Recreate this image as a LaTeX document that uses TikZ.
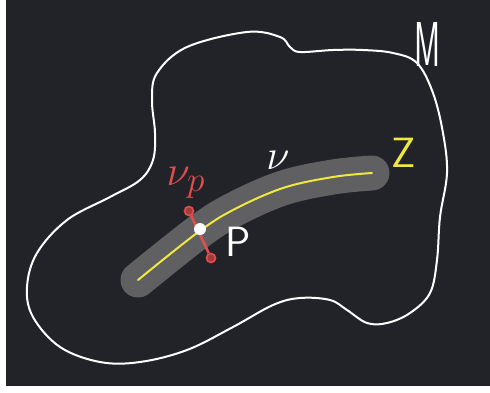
\documentclass[tikz,border=0pt]{standalone}
\usepackage{tikz}
\usetikzlibrary{positioning}
\definecolor{board}{RGB}{33,35,41}
\definecolor{chalkgray}{RGB}{96,96,99}
\definecolor{chalkyellow}{RGB}{240,232,64}
\definecolor{chalkred}{RGB}{226,78,78}

\begin{document}
\begin{tikzpicture}[
  x=1pt, y=-1pt,
  chalk/.style={draw=white, line width=2pt, line cap=round, line join=round},
  band/.style={draw=chalkgray, line width=35pt, line cap=round, line join=round},
  curve/.style={draw=chalkyellow, line width=2pt, line cap=round},
  dot/.style={circle, draw=chalkred, fill=chalkred!75!black, line width=1.6pt, minimum size=9pt, inner sep=0pt},
  pt/.style={circle, fill=white, minimum size=12pt, inner sep=0pt},
  lab/.style={font=\sffamily\Huge, inner sep=0pt, scale=1.7}
]
\useasboundingbox (0,0) rectangle (490,392);
\fill[white] (0,0) rectangle (490,392);
\fill[board] (6,0) rectangle (490,386);

% manifold M
\draw[chalk] plot[smooth cycle, tension=0.6] coordinates {
  (280,37) (247,32) (187,47) (157,73) (152,100) (155,133) (153,160)
  (140,180) (110,197) (67,220) (37,253) (27,287) (33,317) (60,347)
  (100,362) (140,362) (187,350) (233,327) (273,305) (300,298) (330,300)
  (347,310) (367,323) (387,323) (410,313) (430,293) (437,260) (440,217)
  (447,173) (443,133) (433,93) (417,63) (393,53) (363,50) (333,50)
  (300,52) (290,47)};

% tubular neighbourhood and Z
\draw[band] plot[smooth, tension=0.6] coordinates {
  (138,280) (197,233) (233,210) (283,188) (333,177) (372,173)};
\draw[curve] plot[smooth, tension=0.6] coordinates {
  (138,280) (197,233) (233,210) (283,188) (333,177) (372,173)};

% fibre over p
\node[dot] (vtop) at (189,211) {};
\node[dot] (vbot) at (211,258) {};
\draw[chalkred, line width=2.6pt] (vtop) -- (vbot);
\node[pt] (p) at (200,229) {};

\node[lab, text=white] (plab) at (238,242) {P};
\node[lab, text=chalkyellow] (zlab) at (404,153) {Z};
\node[lab, text=white, xscale=0.75, yscale=1.5] (mlab) at (428,44) {M};
\node[lab, text=white] (nulab) at (278,160) {$\nu$};
\node[lab, text=chalkred] (nuplab) at (186,183) {$\nu_p$};
\end{tikzpicture}
\end{document}
